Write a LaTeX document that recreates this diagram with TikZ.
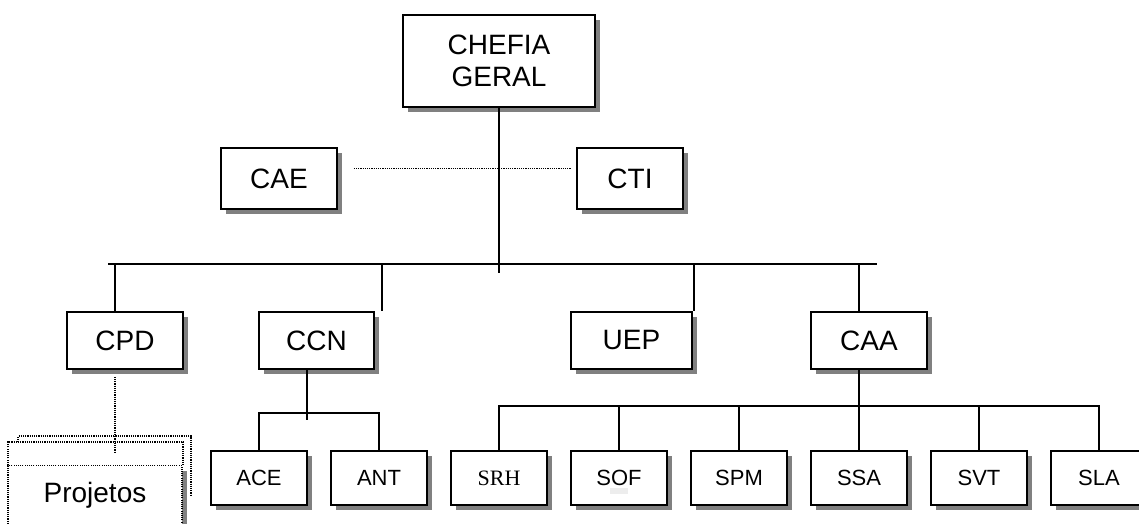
\documentclass[tikz,border=0pt]{standalone}
\usepackage{fontspec}
\setmainfont{Liberation Sans}
\newfontfamily\serifa{Liberation Serif}
\usetikzlibrary{shadows}

\begin{document}
\begin{tikzpicture}[x=1pt, y=-1pt,
    caixa/.style={draw, line width=1.6pt, fill=white, inner sep=0pt, align=center,
        drop shadow={shadow xshift=5pt, shadow yshift=-5pt, fill=black!50, opacity=1},
        font=\fontsize{28}{32}\selectfont},
    caixinha/.style={caixa, minimum width=96pt, minimum height=54pt, font=\fontsize{22}{26}\selectfont},
    ligacao/.style={line width=1.7pt},
    pontilhado/.style={line width=1.2pt, dash pattern=on 1.1pt off 1.1pt}]
        \useasboundingbox (0,0) rectangle (1139,524);

        % Chefia e assessorias
        \node[caixa, minimum width=192pt, minimum height=92pt] (chefia) at (499,61) {CHEFIA\\GERAL};
        \node[caixa, minimum width=116pt, minimum height=61pt] (cae) at (279,178.5) {CAE};
        \node[caixa, minimum width=106pt, minimum height=61pt] (cti) at (630,178.5) {CTI};
        \draw[pontilhado] ([xshift=16pt, yshift=10pt]cae.east) -- ([xshift=-5pt, yshift=10pt]cti.west);

        % Tronco e barra principal
        \coordinate (tronco) at (499,273);
        \coordinate (barraE) at (108,264);
        \coordinate (barraD) at (877,264);
        \draw[ligacao] (chefia.south) -- (tronco);
        \draw[ligacao] (barraE) -- (barraD);

        % Coordenadorias
        \node[caixa, minimum width=116pt, minimum height=57pt] (cpd) at (125,340.5) {CPD};
        \node[caixa, minimum width=115pt, minimum height=57pt] (ccn) at (316.5,340.5) {CCN};
        \node[caixa, minimum width=121pt, minimum height=57pt] (uep) at (631.5,340.5) {UEP};
        \node[caixa, minimum width=116pt, minimum height=57pt] (caa) at (869,340.5) {CAA};
        \foreach \x/\n in {115/cpd, 382/ccn, 694/uep, 859/caa} {
            \coordinate (d\n) at (\x,264);
            \draw[ligacao] (d\n) -- (d\n |- \n.north);
        }

        % Ramo da CCN
        \coordinate (nccn) at (307,420);
        \coordinate (ramo) at (307,413);
        \draw[ligacao] (ccn.south -| nccn) -- (nccn);
        \node[caixinha] (ace) at (259,478) {ACE};
        \node[caixinha] (ant) at (379,478) {ANT};
        \draw[ligacao] (ace.north) -- (ace.north |- ramo) -- (ant.north |- ramo) -- (ant.north);

        % Ramo da CAA
        \coordinate (ncaa) at (859,406);
        \draw[ligacao] (caa.south -| ncaa) -- (ncaa);
        \foreach \n/\x/\t in {srh/499/{\serifa SRH}, sof/619/SOF, spm/739/SPM, ssa/859/SSA, svt/979/SVT, sla/1099/SLA}
            \node[caixinha] (\n) at (\x,478) {\t};
        \draw[ligacao] (srh.north) -- (srh.north |- ncaa) -- (sla.north |- ncaa) -- (sla.north);
        \foreach \n in {sof, spm, ssa, svt}
            \draw[ligacao] (\n.north) -- (\n.north |- ncaa);
        \fill[black!7] (610,488) rectangle (628,494);

        % Projetos (folhas empilhadas)
        \draw[pontilhado] (18,442) -- (18,436) -- (191,436) -- (191,495);
        \draw[pontilhado] (8,465) -- (8,442) -- (183,442) -- (183,465);
        \node[caixa, pontilhado, minimum width=174pt, minimum height=70pt, anchor=north] (projetos) at (95,465) {};
        \node[font=\fontsize{28}{32}\selectfont] (txtprojetos) at (95,495) {Projetos};
        \coordinate (nproj) at (115,453);
        \draw[pontilhado] ([yshift=-7pt]cpd.south -| nproj) -- (nproj);
    \end{tikzpicture}
\end{document}
